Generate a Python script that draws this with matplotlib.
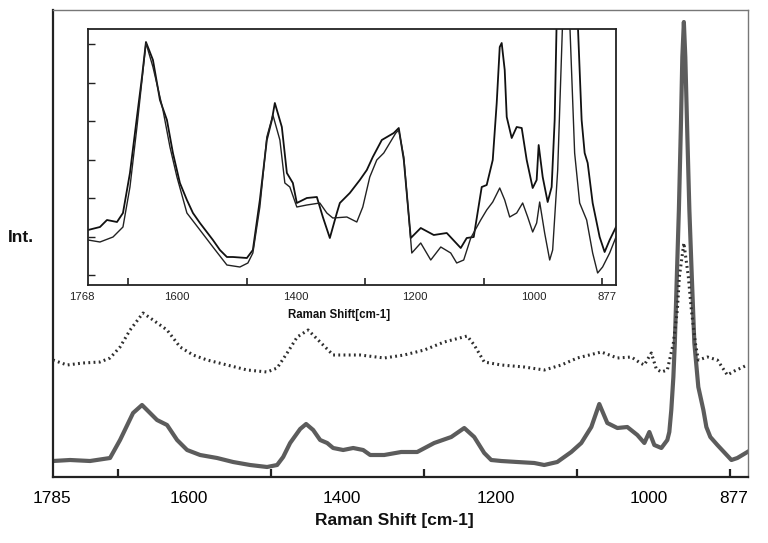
import matplotlib
matplotlib.use('Agg')
import matplotlib.pyplot as plt
import matplotlib.transforms as mtrans

plt.rcParams['font.family'] = ['Liberation Sans', 'DejaVu Sans']

# ---------------- main spectra (arbitrary intensity units) ----------------
solid_wn = [1785.0, 1762.8, 1736.6, 1710.5, 1697.4, 1680.4, 1668.7, 1649.1, 1636.0,
            1622.9, 1609.8, 1592.8, 1570.6, 1549.7, 1527.5, 1505.3, 1492.2, 1484.3,
            1475.2, 1462.1, 1454.3, 1445.1, 1436.0, 1426.8, 1419.0, 1405.9, 1392.8,
            1379.8, 1370.6, 1352.3, 1330.1, 1309.2, 1287.0, 1264.7, 1247.7, 1234.7,
            1221.6, 1212.5, 1199.4, 1178.5, 1156.2, 1143.2, 1126.2, 1107.9, 1094.8,
            1081.7, 1071.3, 1060.8, 1047.7, 1034.7, 1021.6, 1012.4, 1005.9, 999.4,
            990.2, 982.4, 979.8, 977.2, 974.5, 972.6, 970.0, 967.3, 964.7, 962.8,
            960.8, 958.9, 956.2, 953.6, 950.4, 947.1, 941.9, 935.3, 931.4, 926.2,
            917.0, 898.7, 890.9, 877.8]
solid_int = [16, 17, 16, 19, 37, 64, 72, 57, 52,
             37, 27, 22, 19, 15, 12, 10, 12, 20,
             34, 48, 53, 47, 37, 34, 29, 27, 29,
             27, 22, 22, 25, 25, 34, 40, 49, 40,
             24, 17, 16, 15, 14, 12, 15, 25, 34,
             50, 73, 54, 49, 50, 42, 34, 45, 32,
             29, 37, 45, 67, 100, 134, 200, 267, 350, 420,
             455, 420, 340, 267, 200, 134, 90, 67, 50, 40,
             32, 17, 19, 25]

dotted_wn = [1785.0, 1766.7, 1745.8, 1723.6, 1710.5, 1697.4, 1684.3, 1667.4, 1654.3,
             1636.0, 1619.0, 1602.0, 1583.7, 1557.5, 1531.4, 1505.3, 1492.2, 1479.1,
             1466.0, 1451.7, 1436.0, 1419.0, 1400.7, 1383.7, 1352.3, 1326.2, 1300.0,
             1273.9, 1243.8, 1234.7, 1221.6, 1199.4, 1169.3, 1143.2, 1120.9, 1100.0,
             1068.7, 1047.7, 1029.4, 1017.7, 1012.5, 1003.3, 996.8, 990.2, 982.4,
             974.5, 969.3, 966.7, 960.8, 954.9, 951.0, 945.8, 941.9, 930.1, 917.0,
             904.0, 894.8, 877.8]
dotted_int = [117, 112, 114, 115, 119, 130, 147, 164, 157,
              147, 130, 122, 117, 112, 107, 105, 109, 124,
              140, 147, 135, 122, 122, 122, 119, 122, 127,
              135, 141, 132, 115, 112, 110, 107, 112, 119,
              125, 119, 120, 114, 112, 124, 108, 105, 107,
              134, 167, 200, 234, 200, 167, 134, 117, 120, 117,
              102, 106, 112]

main_tick_values = [1785, 1600, 1400, 1200, 1000, 877]
main_tick_labels = ['1785', '1600', '1400', '1200', '1000', '877']
main_minor_ticks = [1700, 1600, 1500, 1400, 1300, 1200, 1100, 1000, 900]

# ---------------- inset spectra ----------------
inset_a_wn = [1768.0, 1747.8, 1736.0, 1719.1, 1709.0, 1697.2, 1685.4, 1676.9, 1670.2,
              1658.4, 1646.6, 1634.8, 1624.7, 1612.9, 1601.1, 1590.9, 1579.1, 1557.2,
              1545.4, 1533.6, 1523.5, 1499.9, 1489.8, 1478.0, 1466.2, 1457.7, 1452.7,
              1440.9, 1432.4, 1422.3, 1415.6, 1398.7, 1381.8, 1371.7, 1359.9, 1348.1,
              1343.0, 1326.2, 1309.3, 1297.5, 1287.4, 1272.2, 1252.0, 1243.6, 1235.1,
              1223.3, 1206.5, 1184.5, 1162.6, 1139.0, 1128.9, 1117.1, 1103.6, 1095.2,
              1085.0, 1078.3, 1073.2, 1069.9, 1064.8, 1061.4, 1053.0, 1044.6, 1036.1,
              1027.7, 1017.6, 1010.9, 1007.5, 1000.7, 992.3, 985.6, 980.5, 977.1,
              960.3, 941.7, 935.0, 929.9, 924.8, 916.4, 904.6, 896.2, 887.7, 877.0]
inset_a_int = [55, 58, 65, 63, 72, 112, 168, 208, 243,
               225, 185, 165, 132, 102, 85, 72, 62, 45,
               35, 28, 28, 27, 35, 85, 145, 165, 182,
               158, 112, 102, 82, 87, 88, 68, 47, 72,
               82, 92, 105, 115, 128, 145, 152, 157, 125,
               47, 57, 50, 52, 37, 47, 48, 98, 100,
               125, 182, 238, 242, 215, 168, 147, 158, 157,
               125, 97, 105, 140, 108, 83, 98, 165, 265,
               900, 265, 165, 132, 122, 82, 48, 33, 45, 58]

inset_b_wn = [1768.0, 1747.8, 1725.8, 1709.0, 1697.2, 1685.4, 1670.2, 1658.4, 1641.5,
              1629.7, 1617.9, 1601.1, 1579.1, 1557.2, 1533.6, 1511.7, 1498.2, 1489.8,
              1478.0, 1466.2, 1456.0, 1444.2, 1435.8, 1427.4, 1415.6, 1398.7, 1376.8,
              1365.0, 1354.9, 1331.2, 1314.4, 1304.3, 1292.5, 1280.7, 1268.9, 1248.6,
              1243.6, 1235.1, 1221.6, 1206.5, 1189.6, 1172.7, 1155.9, 1145.8, 1134.0,
              1122.1, 1105.3, 1095.2, 1085.0, 1073.2, 1064.8, 1056.4, 1044.6, 1034.5,
              1026.0, 1017.6, 1010.9, 1005.8, 997.4, 988.9, 983.9, 975.4, 967.0,
              960.3, 955.2, 946.8, 938.3, 926.5, 916.4, 908.0, 899.6, 887.7, 877.0]
inset_b_int = [45, 43, 48, 58, 98, 158, 242, 218, 175,
               138, 108, 72, 55, 38, 20, 18, 22, 32,
               78, 148, 170, 145, 102, 98, 78, 80, 82,
               72, 67, 68, 63, 78, 108, 125, 132, 152,
               155, 128, 32, 42, 25, 38, 32, 22, 25,
               47, 65, 75, 83, 97, 85, 68, 72, 82,
               68, 53, 62, 83, 52, 25, 35, 115, 265,
               600, 265, 132, 82, 65, 32, 12, 18, 32, 48]

inset_tick_values = [1768, 1600, 1400, 1200, 1000, 877]
inset_tick_labels = ['1768', '1600', '1400', '1200', '1000', '877']
inset_minor_ticks = [1700, 1600, 1500, 1400, 1300, 1200, 1100, 1000, 900]
inset_y_ticks = [10, 48.5, 87, 125.5, 164, 202.5, 241]

# ---------------- figure ----------------
fig = plt.figure(figsize=(7.68, 5.43), dpi=100)
W, H = 768.0, 543.0

ax = fig.add_axes([53 / W, 1 - 477 / H, (748 - 53) / W, (477 - 10) / H])
ax.plot(solid_wn, solid_int, color='#5c5c5c', lw=3.0, solid_joinstyle='round', zorder=2)
ax.plot(dotted_wn, dotted_int, color='#2e2e2e', lw=2.2, linestyle=(0, (0.6, 1.1)), zorder=3)
ax.set_xlim(1785, 877)
ax.set_ylim(0, 467)
ax.set_yticks([])
ax.set_xticks(main_tick_values)
ax.set_xticklabels(main_tick_labels, fontsize=12.4)
ax.set_xticks(main_minor_ticks, minor=True)
ax.tick_params(axis='x', which='major', length=0, pad=10)
ax.tick_params(axis='x', which='minor', direction='in', length=6, width=1.6, color='#222222')
for side in ['left', 'bottom']:
    ax.spines[side].set_color('#222222')
    ax.spines[side].set_linewidth(1.6)
for side in ['top', 'right']:
    ax.spines[side].set_color('#777777')
    ax.spines[side].set_linewidth(1.0)
main_offsets = [-1, -6, -6, -5, -5, -14]
for lab, dx in zip(ax.get_xticklabels(), main_offsets):
    lab.set_transform(lab.get_transform() + mtrans.ScaledTranslation(dx / 100.0, 0, fig.dpi_scale_trans))

fig.text(394 / W, 1 - 521 / H, 'Raman Shift [cm-1]', ha='center', va='center',
         fontsize=12.5, fontweight='bold', color='#111111')
fig.text(21 / W, 1 - 237 / H, 'Int.', ha='center', va='center',
         fontsize=12.5, fontweight='bold', color='#111111')

# ---------------- inset ----------------
ins = fig.add_axes([88 / W, 1 - 285 / H, (616 - 88) / W, (285 - 29) / H], zorder=5)
ins.set_facecolor('white')
ins.plot(inset_a_wn, inset_a_int, color='#111111', lw=1.3)
ins.plot(inset_b_wn, inset_b_int, color='#222222', lw=1.0)
ins.set_xlim(1768, 877)
ins.set_ylim(0, 256)
ins.set_yticks(inset_y_ticks)
ins.set_yticklabels([])
ins.tick_params(axis='y', direction='in', length=5, width=1.0, color='#222222')
ins.set_xticks(inset_tick_values)
ins.set_xticklabels(inset_tick_labels, fontsize=8.2, color='#222222')
ins.set_xticks(inset_minor_ticks, minor=True)
ins.tick_params(axis='x', which='major', length=0, pad=5)
ins.tick_params(axis='x', which='minor', direction='in', length=5, width=1.2, color='#222222')
for side in ins.spines:
    ins.spines[side].set_color('#222222')
    ins.spines[side].set_linewidth(1.3)
inset_offsets = [-6, -11, -10, -10, -9, -9]
for lab, dx in zip(ins.get_xticklabels(), inset_offsets):
    lab.set_transform(lab.get_transform() + mtrans.ScaledTranslation(dx / 100.0, 0, fig.dpi_scale_trans))

fig.text(339 / W, 1 - 315 / H, 'Raman Shift[cm-1]', ha='center', va='center',
         fontsize=8.3, fontweight='bold', color='#111111')

fig.savefig('out.png', dpi=100)
